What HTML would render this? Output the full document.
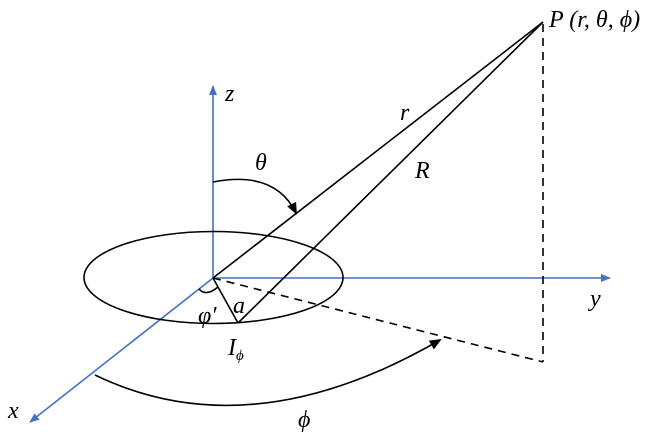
<!DOCTYPE html>
<html><head><style>body{margin:0;background:#fff}svg{display:block}text{font-family:"Liberation Serif",serif;font-style:italic;font-size:24px}</style></head><body>
<svg width="660" height="437" viewBox="0 0 660 437">
<defs>
<marker id="ab" markerWidth="10" markerHeight="10" refX="9" refY="5" orient="auto" markerUnits="userSpaceOnUse"><path d="M0,1 L10,5 L0,9 z" fill="#4472c4"/></marker>
<marker id="ak" markerWidth="12" markerHeight="12" refX="10" refY="6" orient="auto" markerUnits="userSpaceOnUse"><path d="M0,1 L12,6 L0,11 z" fill="#000"/></marker>
</defs>
<g stroke="#4472c4" stroke-width="1.6" fill="none">
<line x1="213" y1="278" x2="213" y2="86" marker-end="url(#ab)"/>
<line x1="213" y1="278" x2="610" y2="278" marker-end="url(#ab)"/>
<line x1="213" y1="278" x2="30" y2="422" marker-end="url(#ab)"/>
</g>
<g stroke="#000" stroke-width="1.6" fill="none">
<ellipse cx="213.5" cy="277.5" rx="129.5" ry="46"/>
<line x1="213" y1="278" x2="543" y2="22"/>
<line x1="238" y1="323" x2="543" y2="22"/>
<line x1="213" y1="278" x2="238" y2="323"/>
<line x1="213" y1="278" x2="543" y2="362" stroke-dasharray="8,6"/>
<line x1="543" y1="24" x2="543" y2="362" stroke-dasharray="8,6"/>
<path d="M213,182 Q275,170 296,213" marker-end="url(#ak)"/>
<path d="M95,375 Q250,450 440,340" marker-end="url(#ak)"/>
<path d="M199,289 Q206,297 218,287"/>
</g>
<text x="225" y="101">z</text>
<text x="590" y="306">y</text>
<text x="8" y="418">x</text>
<text x="255" y="170">θ</text>
<text x="400" y="120">r</text>
<text x="415" y="178">R</text>
<text x="549" y="27">P (r, θ, ϕ)</text>
<text x="198" y="323">φ′</text>
<text x="233" y="313">a</text>
<text x="228" y="355">I<tspan font-size="15" dy="5">ϕ</tspan></text>
<text x="298" y="427">ϕ</text>
</svg>
</body></html>
